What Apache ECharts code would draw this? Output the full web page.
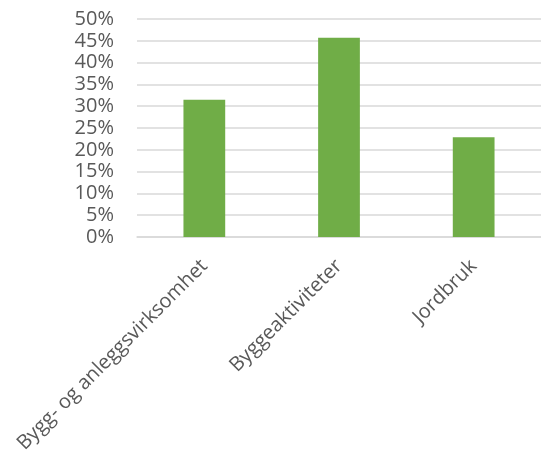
<!DOCTYPE html>
<html><head><meta charset="utf-8">
<script src="https://cdn.jsdelivr.net/npm/echarts@6/dist/echarts.min.js"></script>
<style>html,body{margin:0;padding:0;background:#fff}#c{width:541px;height:457px}</style>
</head><body><div id="c"></div>
<script>
const categories = ["Bygg- og anleggsvirksomhet", "Byggeaktiviteter", "Jordbruk"];
const values = [31.5, 45.7, 22.9];
const yTicks = { min: 0, max: 50, interval: 5 };

const chart = echarts.init(document.getElementById('c'));
chart.setOption({
  animation: false,
  grid: { left: 137, right: 0, top: 19, height: 218 },
  xAxis: {
    type: 'category', data: categories,
    axisLine: { lineStyle: { color: '#d9d9d9', width: 1.5 } },
    axisTick: { show: false },
    axisLabel: { rotate: 45, color: '#595959', fontFamily: 'Open Sans', fontSize: 20, margin: 26, interval: 0 }
  },
  yAxis: {
    type: 'value', min: yTicks.min, max: yTicks.max, interval: yTicks.interval,
    axisLabel: { formatter: v => v + '%', color: '#595959', fontFamily: 'Open Sans', fontSize: 20, margin: 23 },
    splitLine: { lineStyle: { color: '#d9d9d9', width: 1.5 } },
    axisLine: { show: false }, axisTick: { show: false }
  },
  series: [{ type: 'bar', data: values, barWidth: '31%', itemStyle: { color: '#70ad47' } }]
});
</script></body></html>
